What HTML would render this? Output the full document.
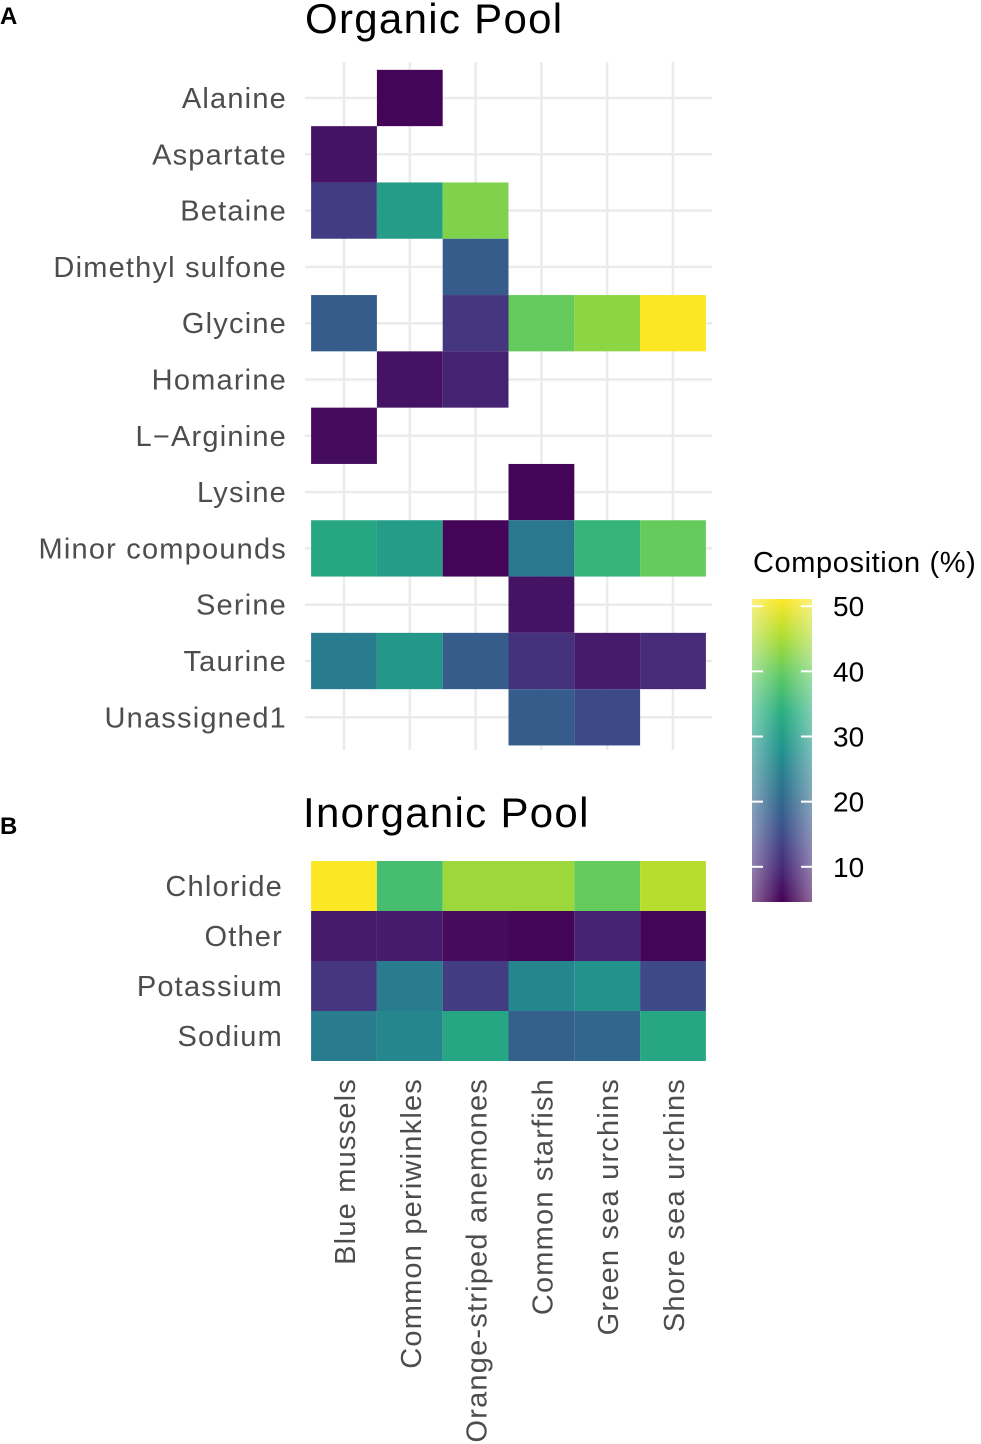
<!DOCTYPE html>
<html><head><meta charset="utf-8"><style>
body{margin:0;background:#fff;}
svg{display:block;font-family:"Liberation Sans",sans-serif;}
</style></head><body>
<svg id="chart" width="981" height="1444" viewBox="0 0 981 1444" xmlns="http://www.w3.org/2000/svg">
<defs>
<linearGradient id="vir" x1="0" y1="1" x2="0" y2="0">
<stop offset="0" stop-color="#440154"/><stop offset="0.125" stop-color="#472d7b"/><stop offset="0.25" stop-color="#3b528b"/><stop offset="0.375" stop-color="#2c728e"/><stop offset="0.5" stop-color="#21918c"/><stop offset="0.625" stop-color="#28ae80"/><stop offset="0.75" stop-color="#5ec962"/><stop offset="0.875" stop-color="#addc30"/><stop offset="1" stop-color="#fde725"/>
</linearGradient>
<linearGradient id="fade" x1="0" y1="0" x2="1" y2="0">
<stop offset="0" stop-color="#fff" stop-opacity="0.4"/><stop offset="0.5" stop-color="#fff" stop-opacity="0"/><stop offset="1" stop-color="#fff" stop-opacity="0.4"/>
</linearGradient>
</defs>
<g id="grid"></g>
<g id="tiles"></g>
<g id="labels"></g>
<text x="0" y="24" font-size="24" font-weight="bold">A</text>
<text x="0" y="834" font-size="24" font-weight="bold">B</text>
<text x="305" y="33" font-size="42" letter-spacing="1.3" fill="#000">Organic Pool</text>
<text x="303" y="827" font-size="42" letter-spacing="1.3" fill="#000">Inorganic Pool</text>
<g>
<text x="753" y="572" font-size="29" letter-spacing="0.6" fill="#000">Composition (%)</text>
<rect x="752" y="599" width="60" height="303" fill="url(#vir)"/>
<rect x="752" y="599" width="60" height="303" fill="url(#fade)"/>
<g id="cbticks"></g>
</g>
</svg>
<script>
const species = ["Blue mussels","Common periwinkles","Orange-striped anemones","Common starfish","Green sea urchins","Shore sea urchins"];
const organicRows = ["Alanine","Aspartate","Betaine","Dimethyl sulfone","Glycine","Homarine","L\u2212Arginine","Lysine","Minor compounds","Serine","Taurine","Unassigned1"];
const organicVals = [
 [null,5,null,null,null,null],
 [7,null,null,null,null,null],
 [13,30,42,null,null,null],
 [null,null,18,null,null,null],
 [18,null,12,40,43,51],
 [null,7,9,null,null,null],
 [6,null,null,null,null,null],
 [null,null,null,5,null,null],
 [32,30,5,23,35,40],
 [null,null,null,7,null,null],
 [24,29,18,11,8,10],
 [null,null,null,18,15,null]
];
const inorganicRows = ["Chloride","Other","Potassium","Sodium"];
const inorganicVals = [
 [51,37,44,44,40,46],
 [8,8,6,5,9,5],
 [12,24,13,26,28,15],
 [24,26,32,19,20,32]
];
const legendTicks = [10,20,30,40,50];

const NS="http://www.w3.org/2000/svg";
const vmin=4.6, vmax=51.1;
const stops=["#440154","#472d7b","#3b528b","#2c728e","#21918c","#28ae80","#5ec962","#addc30","#fde725"].map(h=>[1,3,5].map(i=>parseInt(h.substr(i,2),16)));
function color(v){let t=Math.max(0,Math.min(1,(v-vmin)/(vmax-vmin)))*8;let i=Math.min(7,Math.floor(t)),f=t-i;
 const c=stops[i].map((a,k)=>Math.round(a+(stops[i+1][k]-a)*f));return `rgb(${c.join(",")})`;}
const colX=i=>344+i*65.8, colW=65.8;
const orgY=i=>98+i*56.3, orgH=56.3;
const inoY=i=>886+i*50, inoH=50;
const cbY=v=>902-(v-vmin)/(vmax-vmin)*303;
function el(tag,attrs,parent){const e=document.createElementNS(NS,tag);for(const k in attrs)e.setAttribute(k,attrs[k]);parent.appendChild(e);return e;}
const grid=document.getElementById('grid'),tiles=document.getElementById('tiles'),labels=document.getElementById('labels');
species.forEach((s,i)=>{
 const l=el('line',{x1:colX(i),x2:colX(i),y1:62,y2:750,stroke:'#ebebeb','stroke-width':2.5},grid);
 
 const t=el('text',{transform:`translate(${colX(i)+11},1078) rotate(-90)`,'text-anchor':'end','font-size':29,'letter-spacing':1.2,fill:'#4d4d4d'},labels);
 t.textContent=s;
 
});
organicRows.forEach((r,j)=>{
 const l=el('line',{x1:305,x2:712,y1:orgY(j),y2:orgY(j),stroke:'#ebebeb','stroke-width':2.5},grid);
 
 const t=el('text',{x:287,y:orgY(j)+10,'text-anchor':'end','font-size':29,'letter-spacing':1.2,fill:'#4d4d4d'},labels);
 t.textContent=r;
 
 organicVals[j].forEach((v,i)=>{if(v==null)return;
  const c=el('rect',{x:colX(i)-colW/2,y:orgY(j)-orgH/2,width:colW,height:orgH,fill:color(v)},tiles);
  });
});
inorganicRows.forEach((r,j)=>{
 const t=el('text',{x:283,y:inoY(j)+10,'text-anchor':'end','font-size':29,'letter-spacing':1.2,fill:'#4d4d4d'},labels);
 t.textContent=r;
 
 inorganicVals[j].forEach((v,i)=>{
  const c=el('rect',{x:colX(i)-colW/2,y:inoY(j)-inoH/2,width:colW,height:inoH,fill:color(v)},tiles);
  });
});
const cb=document.getElementById('cbticks');
legendTicks.forEach(v=>{
 const y=cbY(v);
 el('line',{x1:752,x2:763,y1:y,y2:y,stroke:'#fff','stroke-width':2},cb);
 el('line',{x1:801,x2:812,y1:y,y2:y,stroke:'#fff','stroke-width':2},cb);
 const t=el('text',{x:833,y:y+10,'font-size':28,fill:'#000'},cb);
 t.textContent=v;
 
});
</script>
</body></html>
